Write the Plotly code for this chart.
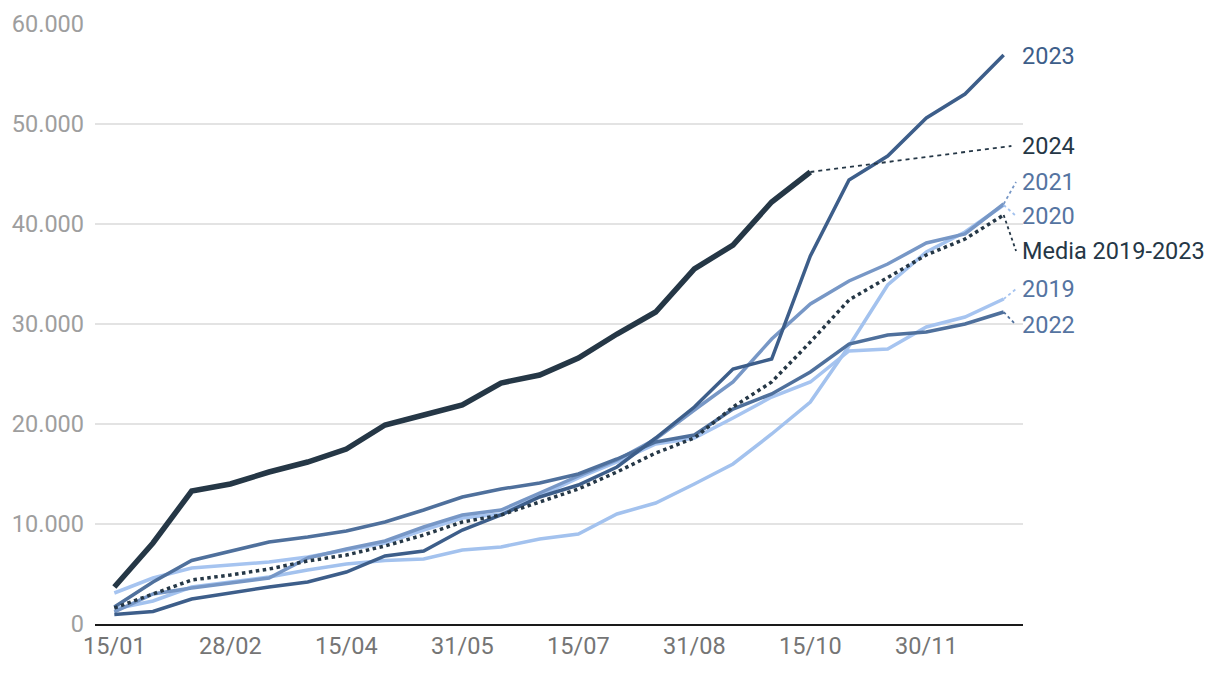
import plotly.graph_objects as go

dates = ["15/01", "31/01", "15/02", "28/02", "15/03", "31/03", "15/04", "30/04",
         "15/05", "31/05", "15/06", "30/06", "15/07", "31/07", "15/08", "31/08",
         "15/09", "30/09", "15/10", "31/10", "15/11", "30/11", "15/12", "31/12"]
tick_labels = ["15/01", "28/02", "15/04", "31/05", "15/07", "31/08", "15/10", "30/11"]

v2019 = [3100, 4600, 5600, 5900, 6200, 6700, 7400, 8100, 9400, 10600, 11000, 12800,
         14600, 16200, 18000, 18600, 20600, 22700, 24200, 27300, 27500, 29700, 30700, 32500]
v2020 = [1500, 2300, 3700, 4200, 4700, 5400, 6000, 6350, 6500, 7400, 7700, 8500,
         9000, 11000, 12100, 14000, 16000, 19000, 22200, 27800, 33900, 37200, 39200, 41900]
v2021 = [1200, 3000, 3600, 4100, 4600, 6600, 7500, 8300, 9700, 10900, 11400, 13100,
         14800, 16400, 18500, 21400, 24200, 28500, 32000, 34300, 36000, 38100, 39000, 42000]
v2022 = [1700, 4200, 6350, 7300, 8200, 8700, 9300, 10200, 11400, 12700, 13500, 14100,
         15000, 16500, 18200, 18900, 21500, 23000, 25200, 28000, 28900, 29200, 30000, 31200]
v2023 = [950, 1250, 2500, 3100, 3700, 4200, 5200, 6800, 7300, 9400, 10900, 12700,
         13900, 15700, 18600, 21700, 25500, 26500, 36800, 44400, 46800, 50600, 53000, 56900]
v2024 = [3700, 8100, 13300, 14000, 15200, 16200, 17500, 19900, 20900, 21900, 24100, 24900,
         26600, 29000, 31200, 35500, 37900, 42200, 45200]
media = [1600, 3000, 4400, 4900, 5500, 6300, 6900, 7800, 8900, 10200, 10900, 12200,
         13500, 15200, 17100, 18600, 21700, 24200, 28200, 32400, 34700, 36900, 38500, 40900]

NAVY = "#253746"
C2023 = "#3d5e8a"
C2022 = "#4f709c"
C2021 = "#7797c6"
C2020 = "#a3c2ee"
C2019 = "#a6c4f0"
LABEL_BLUE = "#5574a1"
FS = 23.5

series = [
    ("2019", v2019, C2019, 3.5, "solid"),
    ("2020", v2020, C2020, 3.5, "solid"),
    ("2021", v2021, C2021, 3.5, "solid"),
    ("2022", v2022, C2022, 3.5, "solid"),
    ("2023", v2023, C2023, 3.5, "solid"),
    ("Media 2019-2023", media, NAVY, 3.5, "dot"),
    ("2024", v2024, NAVY, 5.5, "solid"),
]

fig = go.Figure()
for name, vals, col, w, dash in series:
    fig.add_trace(go.Scatter(
        x=dates[:len(vals)], y=vals, mode="lines", name=name,
        line=dict(color=col, width=w, dash=dash), hoverinfo="skip"))

# right-side labels: (text, text colour, label y level, leader colour, leader dash, series)
labels = [
    ("2023", C2023, 56800, None, None, v2023),
    ("2024", NAVY, 47800, NAVY, "4px,4px", v2024),
    ("2021", LABEL_BLUE, 44200, C2021, "dot", v2021),
    ("2020", LABEL_BLUE, 40800, C2020, "dot", v2020),
    ("Media 2019-2023", NAVY, 37300, NAVY, "dot", media),
    ("2019", LABEL_BLUE, 33500, C2019, "dot", v2019),
    ("2022", LABEL_BLUE, 29900, C2022, "dot", v2022),
]
last = len(dates) - 1
for text, tcol, ylab, lcol, ldash, vals in labels:
    fig.add_annotation(x=last + 0.5, y=ylab, xref="x", yref="y", text=text,
                       showarrow=False, xanchor="left", yanchor="middle",
                       xshift=-3, font=dict(family="Roboto", size=FS, color=tcol))
    if lcol:
        xend = last + (0.2 if text == "2024" else 0.32)
        fig.add_shape(type="line", xref="x", yref="y",
                      x0=len(vals) - 1, y0=vals[-1], x1=xend, y1=ylab,
                      line=dict(color=lcol, width=1.8, dash=ldash))

fig.update_layout(
    width=1220, height=674,
    margin=dict(l=95, r=197, t=24, b=50, autoexpand=False),
    paper_bgcolor="white", plot_bgcolor="white",
    showlegend=False,
    separators=",.",
    font=dict(family="Roboto", size=FS, color="#757575"),
)
fig.update_xaxes(
    type="category", categoryorder="array", categoryarray=dates,
    range=[-0.5, last + 0.5], automargin=False,
    tickmode="array", tickvals=tick_labels, ticktext=tick_labels,
    showgrid=False, showline=True, linecolor="#1a1a1a", linewidth=2,
    ticks="", tickfont=dict(family="Roboto", size=FS, color="#757575"),
    zeroline=False,
)
fig.update_yaxes(
    range=[0, 60000], tickvals=[0, 10000, 20000, 30000, 40000, 50000, 60000],
    tickformat=",d", showgrid=True, gridcolor="#e3e3e3", gridwidth=1.5,
    zeroline=False, showline=False, ticks="", automargin=False,
    tickfont=dict(family="Roboto", size=FS, color="#9e9e9e"),
    ticklabelstandoff=10,
)

fig.write_html("out.html")
